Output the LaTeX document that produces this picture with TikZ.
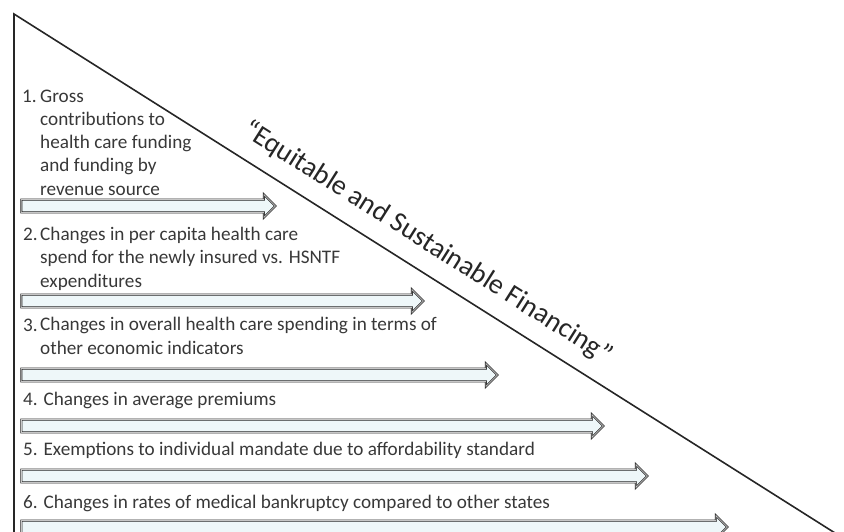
\documentclass[tikz,border=0pt]{standalone}
\usepackage{fontspec}
\setmainfont{Carlito}
\usetikzlibrary{shapes.arrows}

\definecolor{arrowfill}{HTML}{EEF7F9}
\definecolor{itemgray}{HTML}{383838}

\tikzset{
  blockarrow/.style={single arrow, draw=black!85, double=gray!45, double distance=0.7pt,
    line width=0.7pt, fill=arrowfill, text height=6pt, text depth=6pt, minimum width=23pt,
    single arrow head extend=5pt, single arrow tip angle=90, inner sep=0pt, anchor=west},
  itemtext/.style={font=\fontsize{19.2}{23.2}\selectfont, text=itemgray, inner sep=0pt,
    anchor=base west, align=left}
}

\begin{document}
\begin{tikzpicture}[x=1pt, y=-1pt]
  \useasboundingbox (0,0) rectangle (844,531);

  % triangle
  \coordinate (apex) at (14,14);
  \coordinate (base) at (14,545);
  \coordinate (slant) at (854,545);
  \draw[line width=1.6pt, black!85] (base) -- (apex) -- node[sloped, pos=0.475, anchor=base, yshift=20pt,
      inner sep=0pt, font=\fontsize{28}{32}\selectfont] (title) {“Equitable and Sustainable Financing”} (slant);

  % items (multi-line texts sit on the baseline of their last line)
  \node[itemtext] (num1) at (22,102) {1.};
  \node[itemtext] (item1) at (40,195) {Gross\\contributions to\\health care funding\\and funding by\\revenue source};
  \node[blockarrow, minimum height=254pt] (arrow1) at (21,206) {};

  \node[itemtext] (num2) at (23,240.7) {2.};
  \node[itemtext] (item2) at (40,287) {Changes in per capita health care\\spend for the newly insured vs. HSNTF\\expenditures};
  \node[blockarrow, minimum height=402pt] (arrow2) at (21,301) {};

  \node[itemtext] (num3) at (23,331) {3.};
  \node[itemtext] (item3) at (40,354) {Changes in overall health care spending in terms of\\other economic indicators};
  \node[blockarrow, minimum height=476pt] (arrow3) at (21,375) {};

  \node[itemtext] (item4) at (23,405) {4. Changes in average premiums};
  \node[blockarrow, minimum height=582pt] (arrow4) at (21,426) {};

  \node[itemtext] (item5) at (23,455) {5. Exemptions to individual mandate due to affordability standard};
  \node[blockarrow, minimum height=626pt] (arrow5) at (21,476) {};

  \node[itemtext] (item6) at (23,508) {6. Changes in rates of medical bankruptcy compared to other states};
  \node[blockarrow, minimum height=706pt] (arrow6) at (21,527) {};
\end{tikzpicture}
\end{document}
